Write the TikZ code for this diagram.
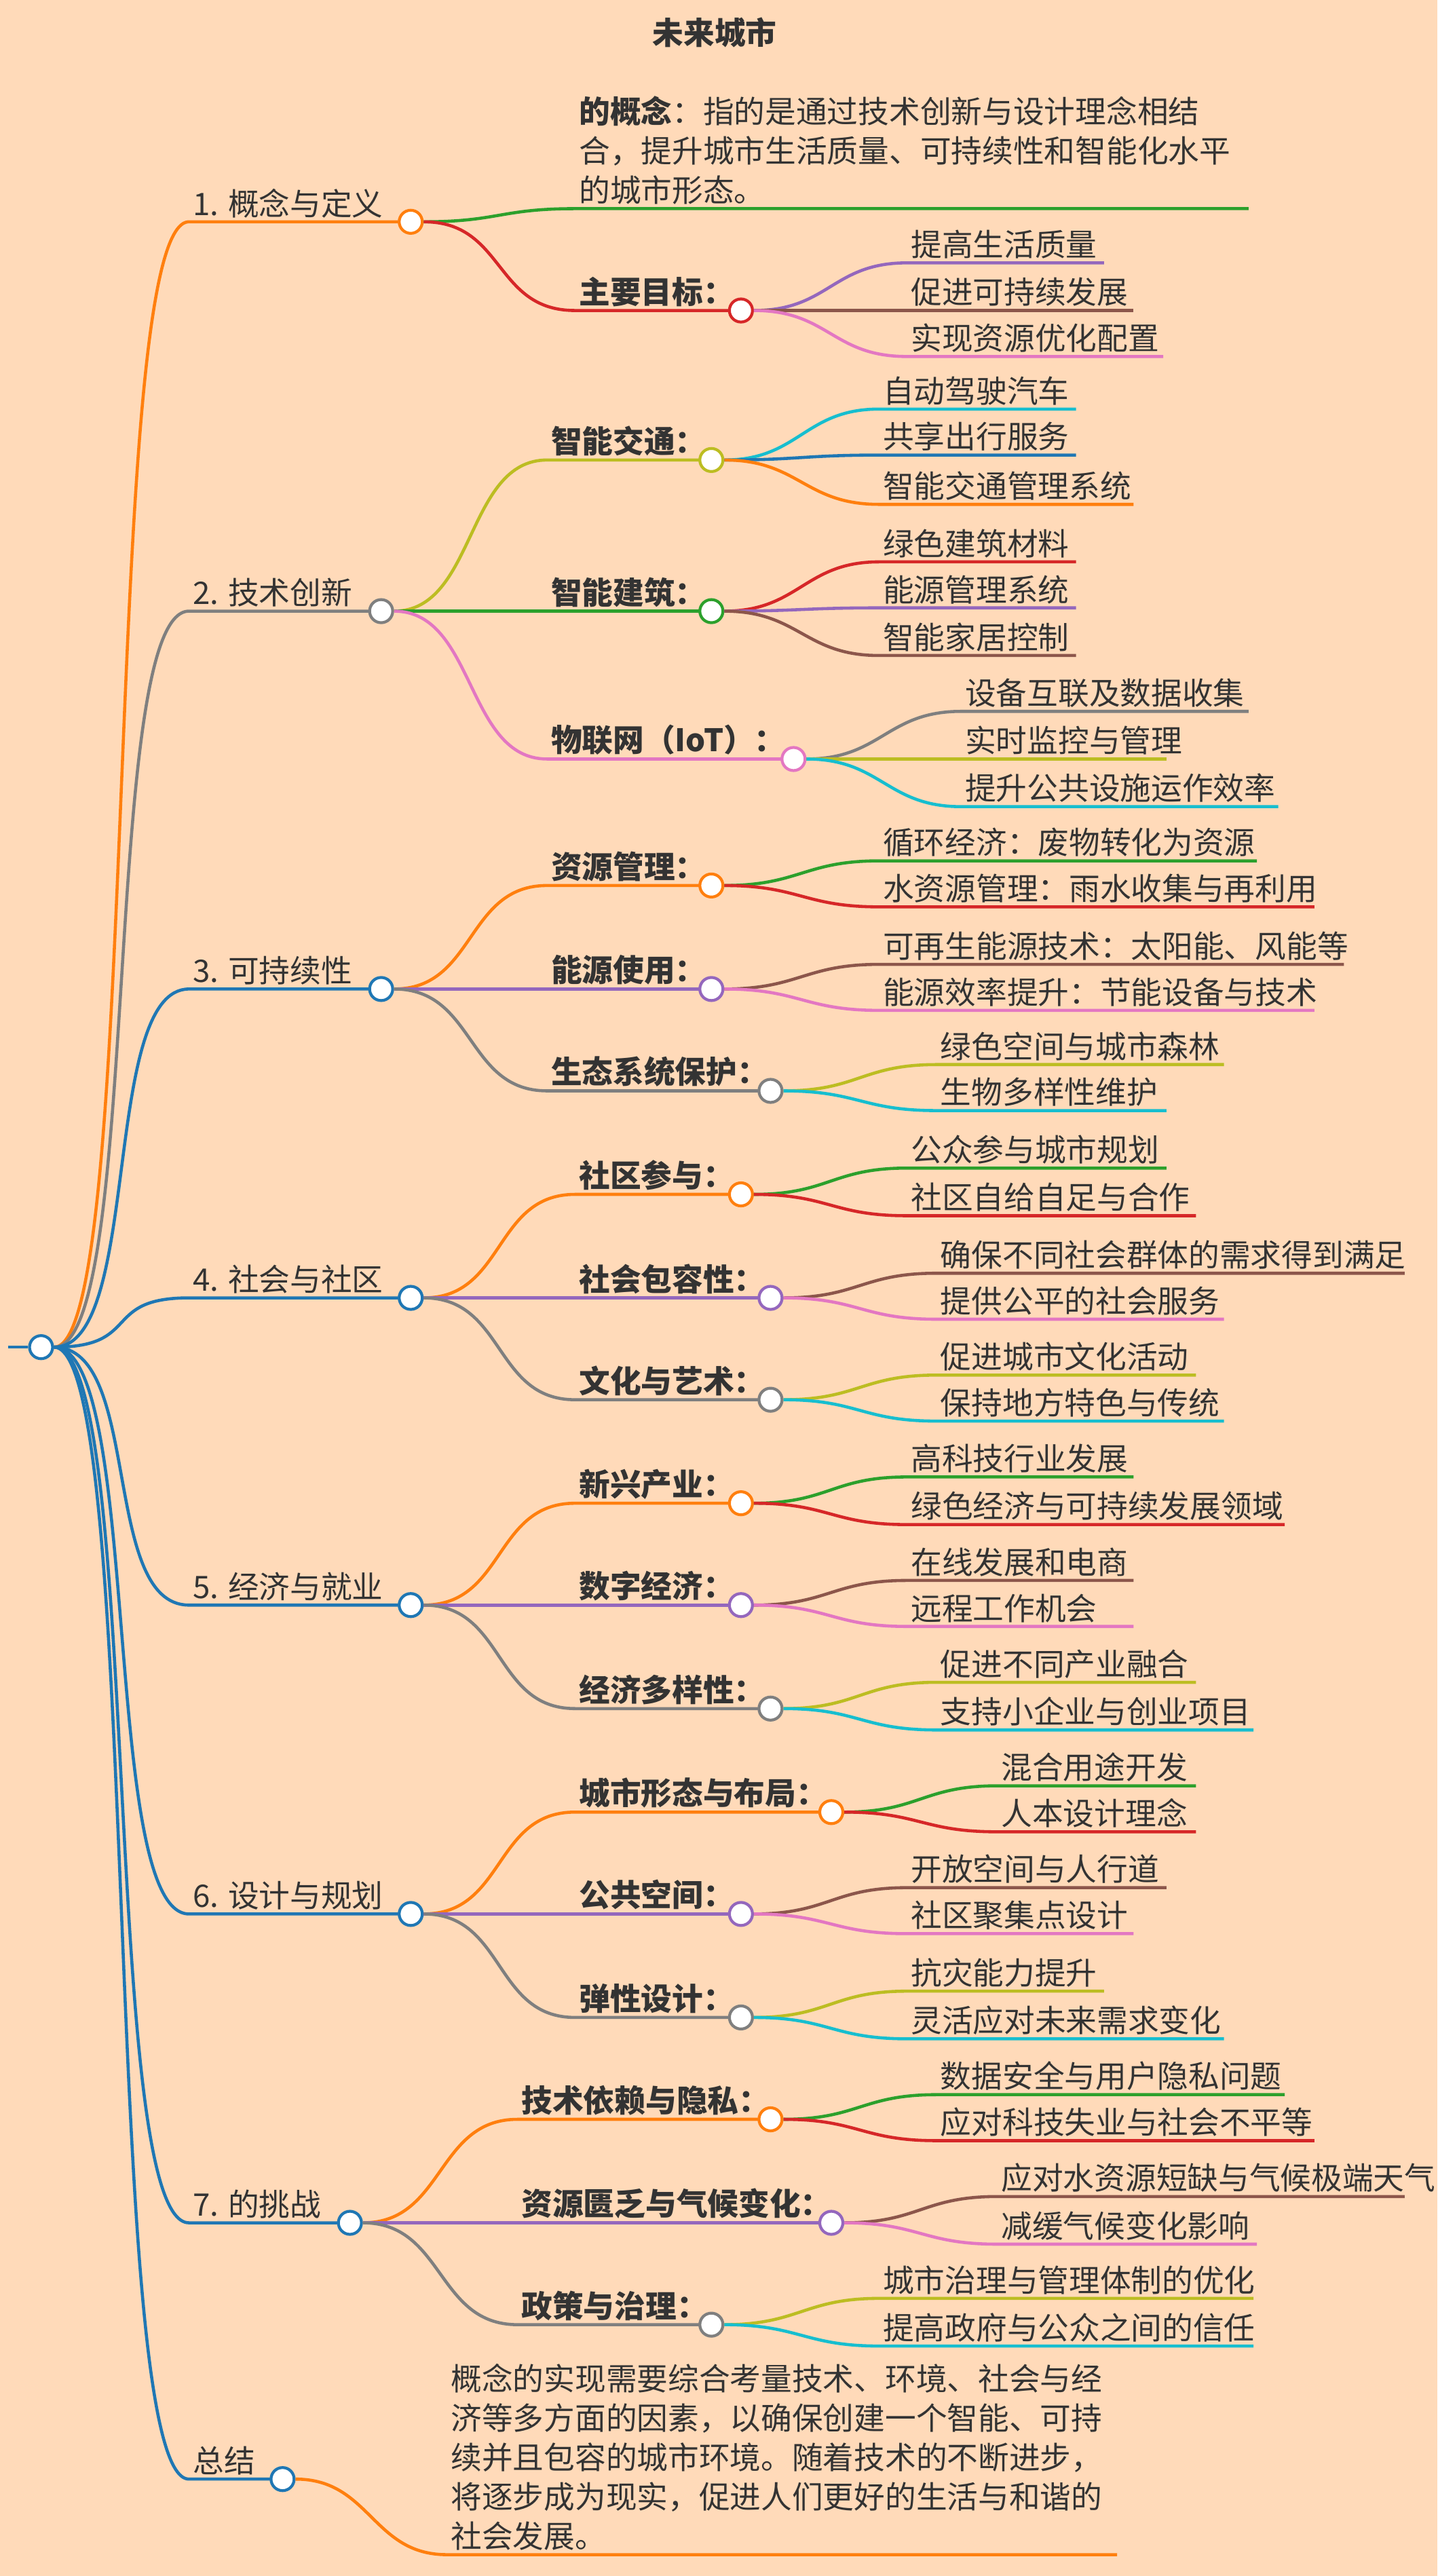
\documentclass[tikz,border=0pt]{standalone}
\usepackage{fontspec}
\setmainfont{Noto Sans CJK SC}
\definecolor{bgpeach}{HTML}{FFDAB9}
\definecolor{ink}{HTML}{333333}
\definecolor{corange}{HTML}{FF7F0E}
\definecolor{cgray}{HTML}{7F7F7F}
\definecolor{cblue}{HTML}{1F77B4}
\definecolor{cgreen}{HTML}{2CA02C}
\definecolor{cred}{HTML}{D62728}
\definecolor{cpurple}{HTML}{9467BD}
\definecolor{cbrown}{HTML}{8C564B}
\definecolor{cpink}{HTML}{E377C2}
\definecolor{colive}{HTML}{BCBD22}
\definecolor{ccyan}{HTML}{17BECF}
\tikzset{
  dot/.style={circle, draw=#1, fill=white, line width=1.2pt, minimum size=0.34cm, inner sep=0pt},
  wire/.style={draw=#1, line width=1.3pt},
  bend/.style={out=0, in=180, distance=#1},
  label/.style={anchor=south west, inner sep=1.5pt, text=ink, font=\fontsize{13}{16.5}\selectfont}
}
% level one: name, y, circle x, line colour, circle colour, text
\newcommand\lvlone[6]{%
  \coordinate (#1s) at (115,#2);
  \draw[wire=#4] (root.east) to[bend=1.3cm] (#1s) -- (#3,#2);
  \node[label] at (#1s) {#6};
  \node[dot=#5] (#1) at (#3,#2) {};
}
% level two: parent, name, start x, circle x, y, colour, text
\newcommand\lvltwo[7]{%
  \coordinate (#2s) at (#3,#5);
  \draw[wire=#6] (#1.east) to[bend=1.2cm] (#2s) -- (#4,#5);
  \node[label] at (#2s) {\textbf{#7}};
  \node[dot=#6] (#2) at (#4,#5) {};
}
% leaf: parent, name, start x, end x, y, colour, text
\newcommand\leafnode[7]{%
  \coordinate (#2s) at (#3,#5);
  \coordinate (#2e) at (#4,#5);
  \draw[wire=#6] (#1.east) to[bend=1.1cm] (#2s) -- (#2e);
  \node[label] at (#2s) {#7};
}
\begin{document}
\begin{tikzpicture}[x=0.0242cm, y=-0.0242cm]
  \fill[bgpeach] (0,0) rectangle (875,1568);
  \useasboundingbox (0,0) rectangle (875,1568);
  \node[text=ink, font=\fontsize{13}{19}\selectfont\bfseries] (title) at (435,20) {未来城市};

  \coordinate (rootw) at (5,820);
  \node[dot=cblue] (root) at (25,820) {};
  \draw[wire=cblue] (rootw) -- (root.west);

  % 1
  \lvlone{a}{135}{250}{corange}{corange}{1. 概念与定义}
  \coordinate (a1s) at (350,127);
  \coordinate (a1e) at (760,127);
  \draw[wire=cgreen] (a.east) to[bend=1.1cm] (a1s) -- (a1e);
  \node[label, align=left] at (a1s) {\textbf{的概念}：指的是通过技术创新与设计理念相结\\合，提升城市生活质量、可持续性和智能化水平\\的城市形态。};
  \lvltwo{a}{a2}{350}{451}{189}{cred}{主要目标：}
  \leafnode{a2}{a21}{552}{672}{160}{cpurple}{提高生活质量}
  \leafnode{a2}{a22}{552}{690}{189}{cbrown}{促进可持续发展}
  \leafnode{a2}{a23}{552}{708}{217}{cpink}{实现资源优化配置}

  % 2
  \lvlone{b}{372}{232}{cgray}{cgray}{2. 技术创新}
  \lvltwo{b}{b1}{333}{433}{280}{colive}{智能交通：}
  \leafnode{b1}{b11}{535}{655}{249}{ccyan}{自动驾驶汽车}
  \leafnode{b1}{b12}{535}{655}{277}{cblue}{共享出行服务}
  \leafnode{b1}{b13}{535}{690}{307}{corange}{智能交通管理系统}
  \lvltwo{b}{b2}{333}{433}{372}{cgreen}{智能建筑：}
  \leafnode{b2}{b21}{535}{655}{342}{cred}{绿色建筑材料}
  \leafnode{b2}{b22}{535}{655}{370}{cpurple}{能源管理系统}
  \leafnode{b2}{b23}{535}{655}{399}{cbrown}{智能家居控制}
  \lvltwo{b}{b3}{333}{483}{462}{cpink}{物联网（IoT）：}
  \leafnode{b3}{b31}{585}{760}{433}{cgray}{设备互联及数据收集}
  \leafnode{b3}{b32}{585}{710}{462}{colive}{实时监控与管理}
  \leafnode{b3}{b33}{585}{778}{491}{ccyan}{提升公共设施运作效率}

  % 3
  \lvlone{c}{602}{232}{cblue}{cblue}{3. 可持续性}
  \lvltwo{c}{c1}{333}{433}{539}{corange}{资源管理：}
  \leafnode{c1}{c11}{535}{765}{524}{cgreen}{循环经济：废物转化为资源}
  \leafnode{c1}{c12}{535}{800}{552}{cred}{水资源管理：雨水收集与再利用}
  \lvltwo{c}{c2}{333}{433}{602}{cpurple}{能源使用：}
  \leafnode{c2}{c21}{535}{818}{587}{cbrown}{可再生能源技术：太阳能、风能等}
  \leafnode{c2}{c22}{535}{800}{615}{cpink}{能源效率提升：节能设备与技术}
  \lvltwo{c}{c3}{333}{469}{664}{cgray}{生态系统保护：}
  \leafnode{c3}{c31}{570}{745}{648}{colive}{绿色空间与城市森林}
  \leafnode{c3}{c32}{570}{710}{676}{ccyan}{生物多样性维护}

  % 4
  \lvlone{d}{790}{250}{cblue}{cblue}{4. 社会与社区}
  \lvltwo{d}{d1}{350}{451}{727}{corange}{社区参与：}
  \leafnode{d1}{d11}{552}{710}{711}{cgreen}{公众参与城市规划}
  \leafnode{d1}{d12}{552}{728}{740}{cred}{社区自给自足与合作}
  \lvltwo{d}{d2}{350}{469}{790}{cpurple}{社会包容性：}
  \leafnode{d2}{d21}{570}{855}{775}{cbrown}{确保不同社会群体的需求得到满足}
  \leafnode{d2}{d22}{570}{745}{803}{cpink}{提供公平的社会服务}
  \lvltwo{d}{d3}{350}{469}{852}{cgray}{文化与艺术：}
  \leafnode{d3}{d31}{570}{728}{837}{colive}{促进城市文化活动}
  \leafnode{d3}{d32}{570}{745}{865}{ccyan}{保持地方特色与传统}

  % 5
  \lvlone{e}{977}{250}{cblue}{cblue}{5. 经济与就业}
  \lvltwo{e}{e1}{350}{451}{915}{corange}{新兴产业：}
  \leafnode{e1}{e11}{552}{690}{899}{cgreen}{高科技行业发展}
  \leafnode{e1}{e12}{552}{782}{928}{cred}{绿色经济与可持续发展领域}
  \lvltwo{e}{e2}{350}{451}{977}{cpurple}{数字经济：}
  \leafnode{e2}{e21}{552}{690}{962}{cbrown}{在线发展和电商}
  \leafnode{e2}{e22}{552}{690}{990}{cpink}{远程工作机会}
  \lvltwo{e}{e3}{350}{469}{1040}{cgray}{经济多样性：}
  \leafnode{e3}{e31}{570}{728}{1024}{colive}{促进不同产业融合}
  \leafnode{e3}{e32}{570}{763}{1053}{ccyan}{支持小企业与创业项目}

  % 6
  \lvlone{f}{1165}{250}{cblue}{cblue}{6. 设计与规划}
  \lvltwo{f}{f1}{350}{506}{1103}{corange}{城市形态与布局：}
  \leafnode{f1}{f11}{607}{728}{1087}{cgreen}{混合用途开发}
  \leafnode{f1}{f12}{607}{728}{1115}{cred}{人本设计理念}
  \lvltwo{f}{f2}{350}{451}{1165}{cpurple}{公共空间：}
  \leafnode{f2}{f21}{552}{710}{1149}{cbrown}{开放空间与人行道}
  \leafnode{f2}{f22}{552}{690}{1177}{cpink}{社区聚集点设计}
  \lvltwo{f}{f3}{350}{451}{1228}{cgray}{弹性设计：}
  \leafnode{f3}{f31}{552}{672}{1212}{colive}{抗灾能力提升}
  \leafnode{f3}{f32}{552}{745}{1241}{ccyan}{灵活应对未来需求变化}

  % 7
  \lvlone{g}{1353}{213}{cblue}{cblue}{7. 的挑战}
  \lvltwo{g}{g1}{315}{469}{1290}{corange}{技术依赖与隐私：}
  \leafnode{g1}{g11}{570}{782}{1275}{cgreen}{数据安全与用户隐私问题}
  \leafnode{g1}{g12}{570}{800}{1303}{cred}{应对科技失业与社会不平等}
  \lvltwo{g}{g2}{315}{506}{1353}{cpurple}{资源匮乏与气候变化：}
  \leafnode{g2}{g21}{607}{855}{1337}{cbrown}{应对水资源短缺与气候极端天气}
  \leafnode{g2}{g22}{607}{765}{1366}{cpink}{减缓气候变化影响}
  \lvltwo{g}{g3}{315}{433}{1415}{cgray}{政策与治理：}
  \leafnode{g3}{g31}{535}{763}{1399}{colive}{城市治理与管理体制的优化}
  \leafnode{g3}{g32}{535}{763}{1428}{ccyan}{提高政府与公众之间的信任}

  % summary
  \lvlone{h}{1509}{172}{cblue}{cblue}{总结}
  \coordinate (h1s) at (272,1555);
  \coordinate (h1e) at (680,1555);
  \draw[wire=corange] (h.east) to[bend=1.1cm] (h1s) -- (h1e);
  \node[label, align=left] at (h1s) {概念的实现需要综合考量技术、环境、社会与经\\济等多方面的因素，以确保创建一个智能、可持\\续并且包容的城市环境。随着技术的不断进步，\\将逐步成为现实，促进人们更好的生活与和谐的\\社会发展。};
\end{tikzpicture}
\end{document}
